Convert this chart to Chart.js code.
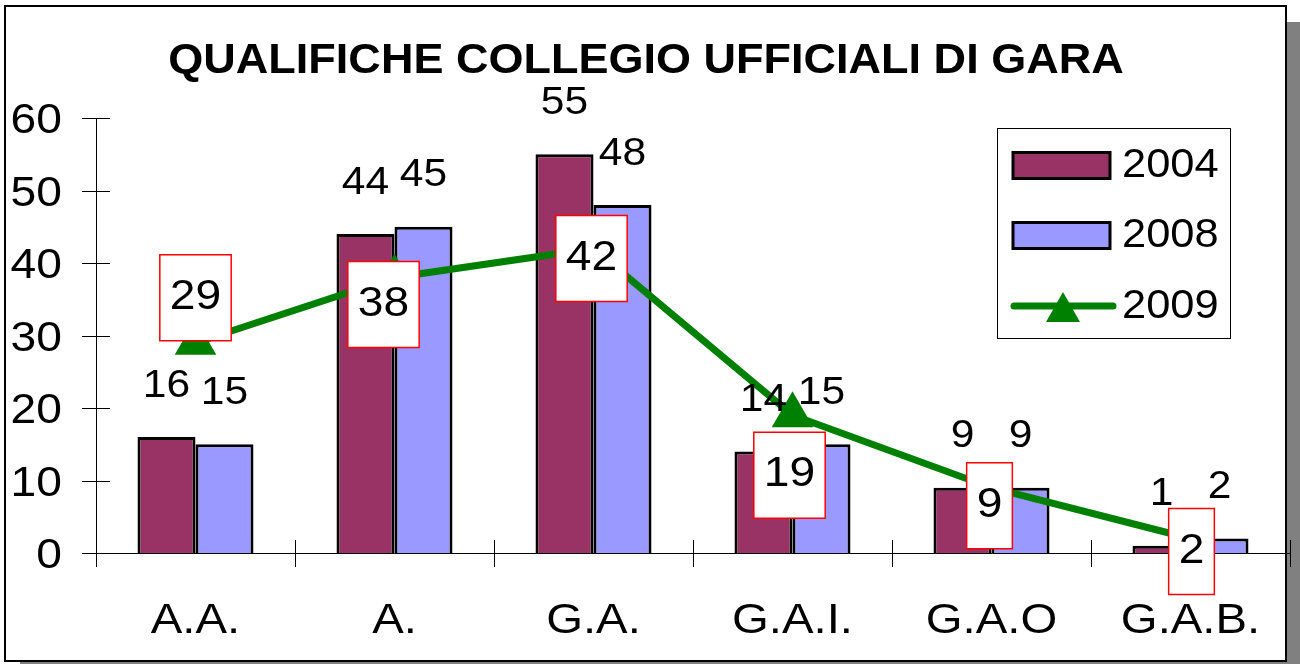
<!DOCTYPE html>
<html>
<head>
<meta charset="utf-8">
<script src="https://cdn.jsdelivr.net/npm/chart.js@4/dist/chart.umd.min.js"></script>
<style>
html,body{margin:0;padding:0;background:#fff}
#wrap{width:1300px;height:664px}
</style>
</head>
<body>
<div id="wrap"><canvas id="chart" width="1300" height="664"></canvas></div>
<script>
const categories = ["A.A.", "A.", "G.A.", "G.A.I.", "G.A.O", "G.A.B."]
const years = ["2004", "2008", "2009"]
const values2004 = [16, 44, 55, 14, 9, 1]
const values2008 = [15, 45, 48, 15, 9, 2]
const values2009 = [29, 38, 42, 19, 9, 2]
const titleText = "QUALIFICHE COLLEGIO UFFICIALI DI GARA"

const FONT = "'Liberation Sans', Arial, sans-serif"
const STRETCH = 1.1

// where each 2009 box sits relative to its point (moved by hand in the original)
const boxShift = [[0, -45], [-11, 27], [-2, 10], [-3, 60], [-2, 18], [1, 13]]

// text drawn a bit wider than the font, like the original; y = middle of the capitals
function text(c, s, x, y, size, align, bold, sx) {
  sx = sx || STRETCH
  c.save()
  c.font = (bold ? "bold " : "") + size + "px " + FONT
  c.textBaseline = "alphabetic"
  c.textAlign = align
  c.translate(x, y + size * 0.358)
  c.scale(sx, 1)
  c.fillStyle = "#000"
  c.fillText(s, 0, 0)
  c.restore()
}

function textWidth(c, s, size) {
  c.save()
  c.font = size + "px " + FONT
  const w = c.measureText(s).width * STRETCH
  c.restore()
  return w
}

const framePlugin = {
  id: "frame",
  beforeDraw(chart) {
    const c = chart.ctx
    c.save()
    c.fillStyle = "#808080"
    c.fillRect(1287, 22, 13, 642)
    c.fillRect(20, 662, 1280, 2)
    c.fillStyle = "#fff"
    c.fillRect(5, 6, 1281, 655)
    c.strokeStyle = "#000"
    c.lineWidth = 2
    c.strokeRect(5, 6, 1281, 655)
    c.restore()
    text(c, titleText, 646, 57.5, 43, "center", true, 1.047)
  },
  afterDraw(chart) {
    const c = chart.ctx
    const x = chart.scales.x
    const y = chart.scales.y
    c.save()
    c.strokeStyle = "#000"
    c.lineWidth = 1
    y.ticks.forEach(t => {
      const py = Math.round(y.getPixelForValue(t.value)) + 0.5
      c.beginPath(); c.moveTo(x.left - 14, py); c.lineTo(x.left + 14, py); c.stroke()
      text(c, String(t.value), 62, py - 1, 42, "right")
    })
    const step = x.getPixelForValue(1) - x.getPixelForValue(0)
    for (let i = 0; i <= categories.length; i++) {
      const px = Math.round(x.getPixelForValue(0) - step / 2 + i * step) + 0.5
      c.beginPath(); c.moveTo(px, y.bottom - 13); c.lineTo(px, y.bottom + 14); c.stroke()
    }
    categories.forEach((lab, i) => text(c, lab, x.getPixelForValue(i), 617.5, 43, "center"))

    // bar value labels
    for (let d = 0; d < 2; d++) {
      chart.getDatasetMeta(d).data.forEach((bar, i) => {
        text(c, String(chart.data.datasets[d].data[i]), bar.x, bar.y - 54, 38, "center", false, 1.12)
      })
    }

    // boxed 2009 labels
    chart.getDatasetMeta(2).data.forEach((pt, i) => {
      const txt = String(chart.data.datasets[2].data[i])
      const w = textWidth(c, txt, 42) + 20
      const h = 86
      const cx = pt.x + boxShift[i][0]
      const cy = pt.y + boxShift[i][1]
      c.fillStyle = "#fff"
      c.fillRect(cx - w / 2, cy - h / 2, w, h)
      c.strokeStyle = "#ff0000"
      c.lineWidth = 1.5
      c.strokeRect(cx - w / 2, cy - h / 2, w, h)
      text(c, txt, cx, cy - 4, 42, "center")
    })

    // legend
    const ds = chart.data.datasets
    c.strokeStyle = "#000"
    c.lineWidth = 1
    c.strokeRect(997.5, 128.5, 233, 210)
    const rows = [165.5, 235.5, 306]
    for (let k = 0; k < 3; k++) {
      const ry = rows[k]
      if (k < 2) {
        c.fillStyle = ds[k].backgroundColor
        c.fillRect(1013, ry - 13, 97, 26)
        c.lineWidth = 3
        c.strokeStyle = "#000"
        c.strokeRect(1013, ry - 13, 97, 26)
      } else {
        c.strokeStyle = ds[k].borderColor
        c.lineWidth = 7
        c.lineCap = "round"
        c.beginPath(); c.moveTo(1014, ry); c.lineTo(1113, ry); c.stroke()
        c.fillStyle = ds[k].borderColor
        c.beginPath(); c.moveTo(1063, ry - 14); c.lineTo(1080, ry + 16); c.lineTo(1046, ry + 16); c.closePath(); c.fill()
      }
      text(c, years[k], 1122, ry - 3, 41, "left", false, 1.06)
    }
    c.restore()
  }
}

new Chart(document.getElementById("chart"), {
  type: "bar",
  data: {
    labels: categories,
    datasets: [
      {
        label: years[0], data: values2004, order: 1,
        backgroundColor: "#993366", borderColor: "#000", borderWidth: 3,
        barPercentage: 1, categoryPercentage: 0.583
      },
      {
        label: years[1], data: values2008, order: 1,
        backgroundColor: "#9999ff", borderColor: "#000", borderWidth: 3,
        barPercentage: 1, categoryPercentage: 0.583
      },
      {
        label: years[2], data: values2009, type: "line", order: 0,
        borderColor: "#008000", backgroundColor: "#008000", borderWidth: 7,
        pointStyle: "triangle", pointRadius: 24, pointBackgroundColor: "#008000",
        pointBorderWidth: 0, tension: 0, fill: false
      }
    ]
  },
  options: {
    responsive: false,
    animation: false,
    layout: { autoPadding: false, padding: { top: 118, right: 10, left: 0, bottom: 0 } },
    plugins: { legend: { display: false }, title: { display: false }, tooltip: { enabled: false } },
    scales: {
      x: {
        grid: { display: false, drawTicks: false },
        border: { display: true, color: "#000", width: 1 },
        ticks: { display: false },
        afterFit(s) { s.height = 111 }
      },
      y: {
        min: 0, max: 60,
        grid: { display: false, drawTicks: false },
        border: { display: true, color: "#000", width: 1 },
        ticks: { display: false, stepSize: 10 },
        afterFit(s) { s.width = 96 }
      }
    }
  },
  plugins: [framePlugin]
})
</script>
</body>
</html>
